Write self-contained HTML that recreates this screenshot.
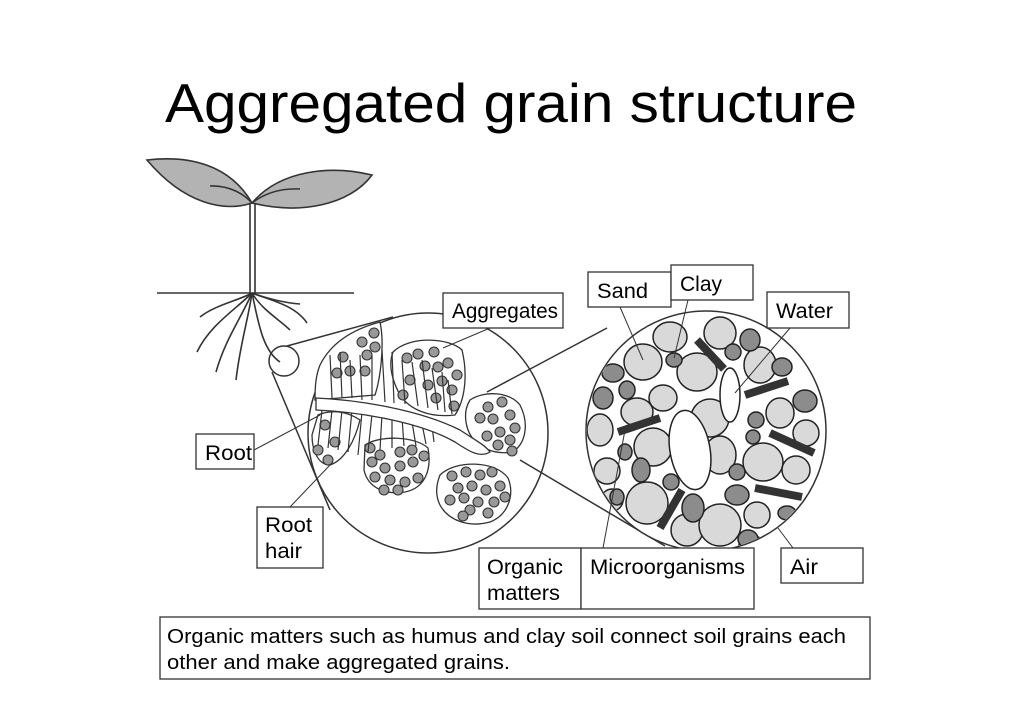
<!DOCTYPE html>
<html><head><meta charset="utf-8"><style>
html,body{margin:0;padding:0;background:#fff;}
svg{display:block;}
text{font-family:"Liberation Sans",sans-serif;fill:#000;}
</style></head><body>
<svg width="1024" height="724" viewBox="0 0 1024 724" xmlns="http://www.w3.org/2000/svg">
<rect width="1024" height="724" fill="#fff"/>
<text x="165" y="122" font-size="55" textLength="692" lengthAdjust="spacingAndGlyphs">Aggregated grain structure</text>

<g stroke="#333" stroke-width="1.6" fill="none">
<path d="M147,160 C190,155 230,165 252,203 C225,212 185,205 147,160 Z" fill="#b3b3b3"/>
<path d="M252,203 C280,170 330,165 372,175 C350,205 300,215 252,203 Z" fill="#b3b3b3"/>
<path d="M210,186 C230,185 245,195 252,203 M252,203 C265,193 280,188 300,189"/>
<line x1="250" y1="203" x2="250" y2="293"/><line x1="255" y1="203" x2="255" y2="293"/>
<line x1="157" y1="293" x2="354" y2="293" stroke-width="1.4"/>
<path d="M252,293 C240,300 215,305 200,317"/>
<path d="M252,293 C235,310 210,325 197,352"/>
<path d="M252,293 C240,320 225,340 216,372"/>
<path d="M252,293 C248,320 240,345 236,380"/>
<path d="M252,293 C258,320 262,350 280,362"/>
<path d="M252,293 C262,310 280,320 290,330"/>
<path d="M252,293 C270,300 295,305 307,323"/>
<path d="M252,293 C265,298 285,303 300,304"/>
</g>
<circle cx="284" cy="361" r="15" fill="none" stroke="#333" stroke-width="1.5"/>
<line x1="287" y1="346" x2="393" y2="317" stroke="#333" stroke-width="1.5"/>
<line x1="272" y1="372" x2="330" y2="510" stroke="#333" stroke-width="1.5"/>

<circle cx="428" cy="433" r="120" fill="#fff" stroke="#333" stroke-width="1.5"/>
<g stroke="#333" stroke-width="1.3" fill="#fff">
<path d="M393,352 C410,335 450,338 462,350 C468,375 465,400 455,415 C430,418 410,410 400,395 C392,380 388,365 393,352 Z"/>
<path d="M470,400 C485,390 510,392 520,405 C530,425 525,445 512,452 C495,455 475,448 468,430 C464,418 465,408 470,400 Z"/>
<path d="M440,475 C455,460 495,460 508,478 C515,495 508,515 490,522 C468,528 448,520 440,505 C435,495 436,485 440,475 Z"/>
<path d="M365,445 C380,435 415,436 428,448 C432,470 425,488 405,492 C385,495 368,488 364,470 Z"/>
<path d="M320,365 C330,345 350,330 380,322 C385,345 380,380 375,395 L315,400 C315,385 316,375 320,365 Z"/>
<path d="M318,415 C330,410 345,410 360,420 C355,440 345,460 330,465 C318,465 312,450 312,435 Z"/>
</g>
<g fill="#999" stroke="#333" stroke-width="1.1">
<circle cx="374" cy="333" r="5"/><circle cx="362" cy="342" r="5"/><circle cx="375" cy="347" r="5"/><circle cx="343" cy="357" r="5"/><circle cx="367" cy="355" r="5"/><circle cx="350" cy="371" r="5"/><circle cx="365" cy="371" r="5"/><circle cx="337" cy="373" r="5"/>
<circle cx="407" cy="358" r="5"/><circle cx="418" cy="354" r="5"/><circle cx="434" cy="352" r="5"/><circle cx="448" cy="363" r="5"/><circle cx="425" cy="366" r="5"/><circle cx="438" cy="367" r="5"/><circle cx="457" cy="375" r="5"/><circle cx="442" cy="381" r="5"/><circle cx="428" cy="385" r="5"/><circle cx="452" cy="390" r="5"/><circle cx="436" cy="398" r="5"/><circle cx="454" cy="406" r="5"/><circle cx="410" cy="380" r="5"/><circle cx="403" cy="395" r="5"/>
<circle cx="488" cy="407" r="5"/><circle cx="502" cy="402" r="5"/><circle cx="480" cy="418" r="5"/><circle cx="493" cy="419" r="5"/><circle cx="510" cy="415" r="5"/><circle cx="515" cy="428" r="5"/><circle cx="500" cy="432" r="5"/><circle cx="487" cy="436" r="5"/><circle cx="510" cy="440" r="5"/><circle cx="498" cy="445" r="5"/><circle cx="512" cy="451" r="5"/>
<circle cx="452" cy="476" r="5"/><circle cx="466" cy="472" r="5"/><circle cx="480" cy="475" r="5"/><circle cx="492" cy="472" r="5"/><circle cx="458" cy="488" r="5"/><circle cx="472" cy="486" r="5"/><circle cx="486" cy="490" r="5"/><circle cx="500" cy="486" r="5"/><circle cx="450" cy="500" r="5"/><circle cx="464" cy="498" r="5"/><circle cx="478" cy="502" r="5"/><circle cx="494" cy="502" r="5"/><circle cx="505" cy="497" r="5"/><circle cx="470" cy="510" r="5"/><circle cx="488" cy="513" r="5"/><circle cx="463" cy="516" r="5"/>
<circle cx="370" cy="448" r="5"/><circle cx="380" cy="455" r="5"/><circle cx="372" cy="462" r="5"/><circle cx="385" cy="468" r="5"/><circle cx="400" cy="466" r="5"/><circle cx="413" cy="462" r="5"/><circle cx="424" cy="456" r="5"/><circle cx="375" cy="477" r="5"/><circle cx="390" cy="480" r="5"/><circle cx="405" cy="482" r="5"/><circle cx="418" cy="478" r="5"/><circle cx="398" cy="490" r="5"/><circle cx="384" cy="490" r="5"/><circle cx="412" cy="450" r="5"/><circle cx="400" cy="452" r="5"/>
<circle cx="318" cy="450" r="5"/><circle cx="335" cy="442" r="5"/><circle cx="328" cy="460" r="5"/><circle cx="325" cy="425" r="5"/>
</g>
<g stroke="#333" stroke-width="1.2" fill="none">
<path d="M330,355 L332,398 M340,352 L342,398 M350,360 L352,398 M360,355 L362,400 M372,355 L372,400 M382,350 L385,402 M392,352 L394,403 M402,360 L405,404 M412,362 L418,406 M422,360 L428,408 M432,368 L438,410 M442,372 L445,412 M448,380 L452,414"/>
<path d="M322,410 L318,445 M332,410 L328,448 M342,410 L338,450 M352,410 L348,452 M362,412 L358,455 M372,414 L368,452 M382,414 L380,450 M392,416 L392,448 M402,418 L404,446 M412,422 L416,446 M422,424 L426,444 M432,426 L434,442"/>
</g>
<path d="M316,398 C360,400 420,410 460,430 C475,440 485,445 490,452 C480,458 470,452 455,442 C420,422 360,412 316,410 Z" fill="#fff" stroke="#333" stroke-width="1.3"/>

<line x1="487" y1="392" x2="607" y2="328" stroke="#333" stroke-width="1.5"/>
<line x1="520" y1="460" x2="665" y2="546" stroke="#333" stroke-width="1.5"/>

<circle cx="706" cy="431" r="120" fill="#fff" stroke="#333" stroke-width="1.5"/>
<clipPath id="rc"><circle cx="706" cy="431" r="119"/></clipPath>
<g clip-path="url(#rc)" stroke="#222" stroke-width="1.5">
<g fill="#d9d9d9">
<ellipse cx="670" cy="337" rx="17" ry="15"/><ellipse cx="720" cy="333" rx="16" ry="16"/><ellipse cx="643" cy="362" rx="19" ry="18"/><ellipse cx="697" cy="372" rx="20" ry="19"/><ellipse cx="637" cy="412" rx="16" ry="14"/><ellipse cx="663" cy="398" rx="14" ry="13"/><ellipse cx="710" cy="418" rx="19" ry="19"/><ellipse cx="600" cy="430" rx="13" ry="16"/><ellipse cx="653" cy="447" rx="19" ry="19"/><ellipse cx="720" cy="455" rx="16" ry="19"/><ellipse cx="763" cy="462" rx="20" ry="19"/><ellipse cx="780" cy="413" rx="14" ry="15"/><ellipse cx="806" cy="433" rx="13" ry="13"/><ellipse cx="796" cy="470" rx="14" ry="14"/><ellipse cx="607" cy="471" rx="13" ry="13"/><ellipse cx="647" cy="503" rx="21" ry="21"/><ellipse cx="687" cy="530" rx="16" ry="16"/><ellipse cx="720" cy="525" rx="21" ry="21"/><ellipse cx="757" cy="515" rx="13" ry="13"/><ellipse cx="760" cy="365" rx="16" ry="18"/><ellipse cx="612" cy="500" rx="11" ry="11"/><ellipse cx="752" cy="545" rx="13" ry="9"/>
</g>
<g fill="#8c8c8c">
<ellipse cx="674" cy="360" rx="8" ry="7"/><ellipse cx="613" cy="373" rx="11" ry="9"/><ellipse cx="603" cy="398" rx="10" ry="11"/><ellipse cx="627" cy="390" rx="8" ry="9"/><ellipse cx="750" cy="340" rx="10" ry="11"/><ellipse cx="733" cy="352" rx="8" ry="8"/><ellipse cx="782" cy="367" rx="10" ry="9"/><ellipse cx="805" cy="401" rx="12" ry="11"/><ellipse cx="756" cy="420" rx="8" ry="8"/><ellipse cx="753" cy="437" rx="7" ry="7"/><ellipse cx="625" cy="452" rx="7" ry="8"/><ellipse cx="641" cy="470" rx="9" ry="12"/><ellipse cx="737" cy="472" rx="8" ry="8"/><ellipse cx="737" cy="495" rx="12" ry="10"/><ellipse cx="693" cy="508" rx="11" ry="14"/><ellipse cx="617" cy="497" rx="7" ry="8"/><ellipse cx="671" cy="482" rx="8" ry="8"/><ellipse cx="787" cy="513" rx="9" ry="7"/><ellipse cx="748" cy="539" rx="10" ry="9"/>
</g>
<g fill="#fff">
<ellipse cx="730" cy="395" rx="10" ry="27"/><ellipse cx="690" cy="450" rx="20" ry="40" transform="rotate(-10 690 450)"/>
</g>
</g>
<g stroke="#333" stroke-width="8" stroke-linecap="butt">
<line x1="697" y1="340" x2="724" y2="369"/><line x1="745" y1="395" x2="788" y2="381"/><line x1="618" y1="432" x2="660" y2="418"/><line x1="770" y1="433" x2="814" y2="453"/><line x1="755" y1="488" x2="802" y2="497"/><line x1="660" y1="528" x2="682" y2="490"/>
</g>

<g stroke="#333" stroke-width="1">
<line x1="490" y1="328" x2="443" y2="348"/>
<line x1="254" y1="450" x2="320" y2="415"/>
<line x1="290" y1="507" x2="330" y2="465"/>
<line x1="620" y1="307" x2="643" y2="360"/>
<line x1="688" y1="300" x2="674" y2="358"/>
<line x1="790" y1="328" x2="735" y2="393"/>
<line x1="793" y1="548" x2="778" y2="528"/>
<line x1="603" y1="548" x2="625" y2="430"/>
</g>

<g fill="#fff" stroke="#333" stroke-width="1.3">
<rect x="443" y="293" width="120" height="35"/>
<rect x="588" y="272" width="83" height="35"/>
<rect x="671" y="265" width="82" height="35"/>
<rect x="767" y="292" width="82" height="36"/>
<rect x="196" y="434" width="58" height="35"/>
<rect x="257" y="507" width="66" height="61"/>
<rect x="479" y="548" width="102" height="61"/>
<rect x="581" y="548" width="173" height="61"/>
<rect x="781" y="548" width="82" height="35"/>
<rect x="160" y="617" width="710" height="62"/>
</g>
<g font-size="21">
<text x="452" y="318" textLength="106" lengthAdjust="spacingAndGlyphs">Aggregates</text>
<text x="597" y="298" textLength="51" lengthAdjust="spacingAndGlyphs">Sand</text>
<text x="680" y="291" textLength="42" lengthAdjust="spacingAndGlyphs">Clay</text>
<text x="776" y="318" textLength="57" lengthAdjust="spacingAndGlyphs">Water</text>
<text x="205" y="460" textLength="47" lengthAdjust="spacingAndGlyphs">Root</text>
<text x="265" y="532" textLength="47" lengthAdjust="spacingAndGlyphs">Root</text>
<text x="265" y="558" textLength="37" lengthAdjust="spacingAndGlyphs">hair</text>
<text x="487" y="574" textLength="76" lengthAdjust="spacingAndGlyphs">Organic</text>
<text x="487" y="600" textLength="73" lengthAdjust="spacingAndGlyphs">matters</text>
<text x="590" y="574" textLength="155" lengthAdjust="spacingAndGlyphs">Microorganisms</text>
<text x="790" y="574" textLength="28" lengthAdjust="spacingAndGlyphs">Air</text>
</g>
<g font-size="20">
<text x="167" y="643" textLength="679" lengthAdjust="spacingAndGlyphs">Organic matters such as humus and clay soil connect soil grains each</text>
<text x="167" y="669" textLength="343" lengthAdjust="spacingAndGlyphs">other and make aggregated grains.</text>
</g>
</svg>
</body></html>
